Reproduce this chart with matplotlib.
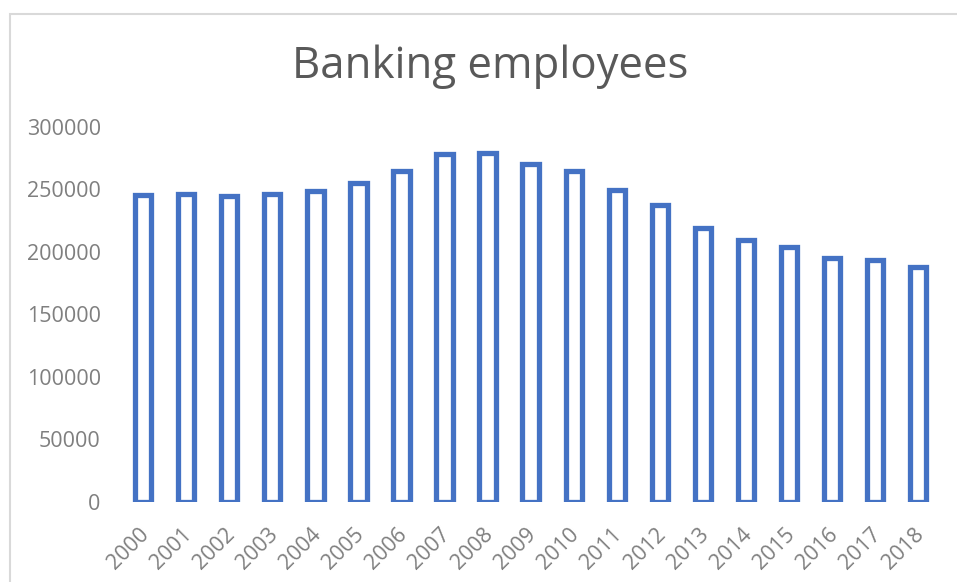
import matplotlib.pyplot as plt
from matplotlib.patches import Rectangle
from matplotlib.transforms import ScaledTranslation

years = [str(y) for y in range(2000, 2019)]
employees = [
    245200, 246600, 244600, 246000, 248400, 255400, 264600, 278500, 279300,
    270500, 264600, 249300, 237400, 218800, 209200, 203600, 195000, 193700,
    187800,
]
yticks = [0, 50000, 100000, 150000, 200000, 250000, 300000]

plt.rcParams["font.family"] = ["Open Sans", "DejaVu Sans"]

fig = plt.figure(figsize=(9.57, 5.82), dpi=100)
ax = fig.add_axes([0.127, 0.1375, 0.855, 0.6445])

x = range(len(years))
ax.bar(
    x,
    employees,
    width=0.38,
    facecolor="white",
    edgecolor="#4472C4",
    linewidth=3.8,
)

ax.set_xlim(-0.5, len(years) - 0.5)
ax.set_ylim(0, 300000)
ax.set_yticks(yticks)
ax.set_yticklabels([str(v) for v in yticks])
ax.set_xticks(list(x))
ax.set_xticklabels(years, rotation=45, ha="right", rotation_mode="anchor")

ax.tick_params(axis="both", length=0, colors="#7F7F7F", labelsize=15.5)
ax.tick_params(axis="y", pad=15)
ax.tick_params(axis="x", pad=16)
shift = ScaledTranslation(-5 / 100, 0, fig.dpi_scale_trans)
for lbl in ax.get_xticklabels():
    lbl.set_transform(lbl.get_transform() + shift)
for side in ["top", "right", "left", "bottom"]:
    ax.spines[side].set_visible(False)

fig.text(0.512, 0.885, "Banking employees", ha="center", va="center",
         fontsize=31.5, color="#595959")

# light chart border, cut off at right and bottom like the screenshot
fig.patches.append(Rectangle((9.5 / 957, -0.05), 1.1, 1 - 13.5 / 582 + 0.05,
                             transform=fig.transFigure, fill=False,
                             edgecolor="#D9D9D9", linewidth=1.5))

fig.savefig("out.png", dpi=100)
plt.close(fig)
